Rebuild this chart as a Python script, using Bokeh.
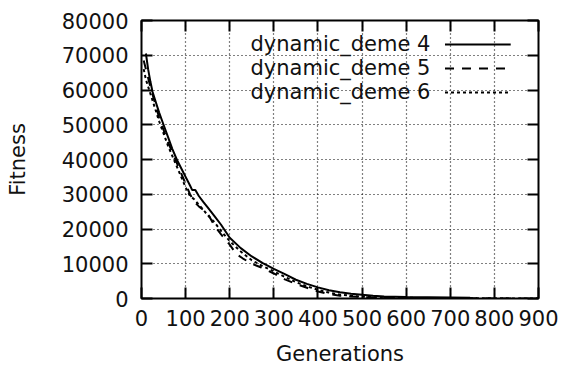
from bokeh.plotting import figure
from bokeh.models import LinearAxis, FixedTicker, Range1d, Label, Arrow, ColumnDataSource, CustomJSTickFormatter
from bokeh.embed import file_html
from bokeh.resources import INLINE

# ---- data ----
gen_d4 = [10, 15, 20, 25, 30, 40, 50, 60, 70, 80, 90, 100, 110, 115, 122, 130, 140, 150, 165, 180,
          200, 225, 250, 275, 300, 325, 350, 375, 400, 425, 450, 475, 500, 525, 550, 600, 650, 700, 745]
fit_d4 = [70500, 66000, 62500, 59500, 57500, 53500, 50000, 46500, 43000, 40000, 37500, 35000, 32500,
          31200, 31200, 29500, 27800, 26200, 23800, 21300, 17500, 14500, 12100, 10200, 8500, 7000,
          5400, 4200, 3200, 2400, 1800, 1400, 1100, 800, 580, 400, 350, 300, 250]

gen_d5 = [5, 10, 20, 30, 40, 50, 60, 70, 80, 90, 100, 110, 120, 130, 150, 165, 180, 200, 215, 230,
          250, 270, 300, 325, 350, 375, 400, 425, 450, 475, 500, 550, 600, 700, 800, 900]
fit_d5 = [68500, 66000, 61000, 56500, 52000, 48500, 45000, 42000, 39000, 36000, 33000, 30000, 27800,
          26500, 24500, 21000, 18500, 15500, 12800, 11500, 10000, 9000, 7200, 5500, 4200, 3100, 2000,
          1300, 800, 600, 400, 250, 150, 80, 30, 0]

gen_d6 = [5, 10, 20, 30, 40, 50, 60, 70, 80, 90, 100, 110, 120, 130, 150, 165, 180, 200, 225, 250,
          275, 300, 325, 350, 375, 400, 425, 450, 475, 500, 550, 600, 700, 800, 900]
fit_d6 = [66000, 63000, 59000, 55000, 51000, 47500, 44000, 41000, 38000, 35000, 32000, 29500, 28500,
          27000, 24000, 22000, 19500, 16500, 13500, 11000, 9300, 7800, 6200, 4700, 3500, 2500, 1700,
          1100, 800, 500, 300, 200, 100, 50, 0]

series_names = ["dynamic_deme 4", "dynamic_deme 5", "dynamic_deme 6"]
x_ticks = [0, 100, 200, 300, 400, 500, 600, 700, 800, 900]
y_ticks = [0, 10000, 20000, 30000, 40000, 50000, 60000, 70000, 80000]

FONT = "DejaVu Sans"
FS = "21px"

p = figure(width=562, height=369, output_backend="svg", toolbar_location=None,
           x_range=Range1d(0, 900), y_range=Range1d(0, 80000),
           min_border_left=141, min_border_right=24, min_border_top=20, min_border_bottom=71,
           x_axis_label="Generations", y_axis_label="Fitness")
p.background_fill_color = "white"
p.border_fill_color = "white"
p.outline_line_color = "black"
p.outline_line_width = 2

for ax, ticks in ((p.xaxis[0], x_ticks), (p.yaxis[0], y_ticks)):
    ax.ticker = FixedTicker(ticks=ticks)
    ax.axis_line_color = None
    ax.major_tick_in = 11
    ax.major_tick_out = 0
    ax.major_tick_line_width = 2
    ax.major_tick_line_color = "black"
    ax.minor_tick_line_color = None
    ax.major_label_text_font = FONT
    ax.major_label_text_font_size = FS
    ax.major_label_text_color = "#111111"
    ax.axis_label_text_font = FONT
    ax.axis_label_text_font_size = FS
    ax.axis_label_text_font_style = "normal"
    ax.axis_label_text_color = "#111111"

p.xaxis.major_label_standoff = 11
p.xaxis.axis_label_standoff = 13
p.yaxis.major_label_standoff = 13
p.yaxis.axis_label_standoff = 29
p.yaxis.formatter.use_scientific = False

# mirrored ticks on top and right (no labels)
for loc, ticks in (("above", x_ticks), ("right", y_ticks)):
    ax = LinearAxis(ticker=FixedTicker(ticks=ticks),
                    formatter=CustomJSTickFormatter(code="return ''"))
    ax.axis_line_color = None
    ax.major_tick_in = 11
    ax.major_tick_out = 0
    ax.major_tick_line_width = 2
    ax.minor_tick_line_color = None
    ax.major_label_standoff = 0
    p.add_layout(ax, loc)

for g in p.grid:
    g.grid_line_color = "black"
    g.grid_line_dash = "1 3"
    g.grid_line_width = 1.2
p.xgrid.ticker = FixedTicker(ticks=x_ticks)
p.ygrid.ticker = FixedTicker(ticks=y_ticks)

dashes = ["solid", "9 8", "3 3"]
data = [(gen_d4, fit_d4), (gen_d5, fit_d5), (gen_d6, fit_d6)]
for (gx, fy), dash in zip(data, dashes):
    src = ColumnDataSource(dict(x=gx, y=fy))
    p.line("x", "y", source=src, line_color="black", line_width=2, line_dash=dash)

# gnuplot-style key (text, then line sample to its right)
key_text_x = 655
key_x0, key_x1 = 688, 837
key_rows = [73100, 66200, 59300]
for name, dash, ky in zip(series_names, dashes, key_rows):
    p.add_layout(Label(x=key_text_x, y=ky, text=name, text_align="right", text_baseline="middle",
                       text_font=FONT, text_font_size=FS, text_color="#111111"))
    p.add_layout(Arrow(x_start=key_x0, y_start=ky, x_end=key_x1, y_end=ky, end=None,
                       line_color="black", line_width=2, line_dash=dash))

open("out.html", "w").write(file_html(p, INLINE))
